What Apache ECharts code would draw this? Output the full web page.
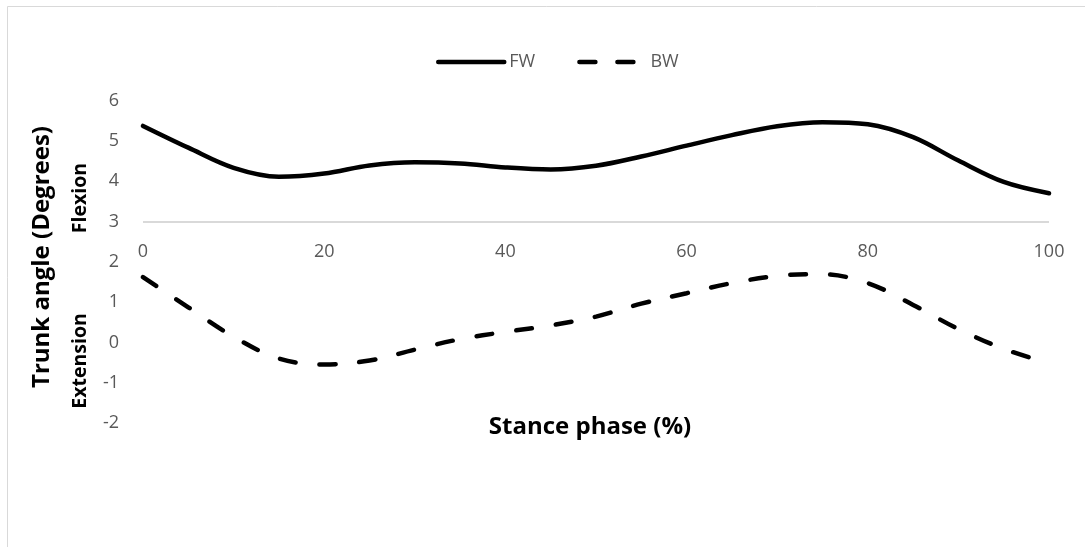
<!DOCTYPE html>
<html>
<head>
<meta charset="utf-8">
<script src="https://cdn.jsdelivr.net/npm/echarts@6/dist/echarts.min.js"></script>
<style>
  html, body { margin: 0; padding: 0; background: #ffffff; }
  #chart { width: 1085px; height: 547px; }
</style>
</head>
<body>
<div id="chart"></div>
<script>
// Stance phase (%) sampled every 5 %
const stance = [0, 5, 10, 15, 20, 25, 30, 35, 40, 45, 50, 55, 60, 65, 70, 75, 80, 85, 90, 95, 100];
// Trunk angle, forward walking (degrees)
const fw = [5.37, 4.83, 4.33, 4.11, 4.19, 4.39, 4.47, 4.44, 4.34, 4.29, 4.38, 4.61, 4.88, 5.14, 5.36, 5.46, 5.41, 5.09, 4.51, 3.98, 3.70];
// Trunk angle, backward walking (degrees)
const bw = [1.62, 0.87, 0.14, -0.40, -0.55, -0.45, -0.18, 0.08, 0.26, 0.42, 0.64, 0.96, 1.22, 1.47, 1.65, 1.69, 1.47, 0.93, 0.33, -0.16, -0.52];
// Axis ranges and tick steps
const xTicks = { min: 0, max: 100, step: 20 };
const yTicks = { min: -2, max: 6, step: 1 };
const seriesNames = ['FW', 'BW'];

const textFont = '"Open Sans", "Noto Sans", sans-serif';
const tickColor = '#595959';
const solidStyle = { color: '#000000', width: 4.5, cap: 'round' };
const dashedStyle = { color: '#000000', width: 4.5, type: [16, 24], cap: 'round' };

const pair = (xs, ys) => xs.map((x, i) => [x, ys[i]]);

// gridline only where the horizontal axis crosses (y = 3)
const yLevelCount = (yTicks.max - yTicks.min) / yTicks.step + 1;
const splitColors = [];
for (let i = 0; i < yLevelCount; i++) {
  splitColors.push(yTicks.min + i * yTicks.step === 3 ? '#d9d9d9' : 'rgba(0,0,0,0)');
}

const chart = echarts.init(document.getElementById('chart'), null, { renderer: 'canvas' });

chart.setOption({
  animation: false,
  backgroundColor: '#ffffff',
  grid: { left: 143, right: 36, top: 100.5, bottom: 124, containLabel: false },
  legend: {
    left: 436,
    top: 53,
    padding: 0,
    itemWidth: 66,
    itemHeight: 18,
    itemGap: 42,
    itemStyle: { opacity: 0 },
    textStyle: { color: tickColor, fontSize: 18, fontFamily: textFont },
    data: [
      { name: seriesNames[0], lineStyle: solidStyle },
      { name: seriesNames[1], lineStyle: { color: '#000000', width: 4.5, type: [16, 22], cap: 'round' } }
    ]
  },
  xAxis: {
    type: 'value',
    min: xTicks.min,
    max: xTicks.max,
    interval: xTicks.step,
    position: 'bottom',
    offset: -201.3,
    axisLine: { show: false },
    axisTick: { show: false },
    splitLine: { show: false },
    axisLabel: { color: tickColor, fontSize: 18, fontFamily: textFont, margin: 21 }
  },
  yAxis: {
    type: 'value',
    min: yTicks.min,
    max: yTicks.max,
    interval: yTicks.step,
    axisLine: { show: false },
    axisTick: { show: false },
    splitLine: { show: true, lineStyle: { color: splitColors, width: 2 } },
    axisLabel: { color: tickColor, fontSize: 18, fontFamily: textFont, margin: 24 }
  },
  graphic: [
    {
      type: 'rect',
      shape: { x: 7.5, y: 6.5, width: 1090, height: 600 },
      style: { fill: 'none', stroke: '#d9d9d9', lineWidth: 1 },
      silent: true,
      z: -10
    },
    {
      type: 'text',
      x: 42, y: 257,
      rotation: Math.PI / 2,
      style: {
        text: 'Trunk angle (Degrees)',
        font: 'bold 24px ' + textFont,
        fill: '#000000',
        align: 'center',
        verticalAlign: 'middle'
      }
    },
    {
      type: 'text',
      x: 80, y: 198,
      rotation: Math.PI / 2,
      style: {
        text: 'Flexion',
        font: 'bold 19.5px ' + textFont,
        fill: '#000000',
        align: 'center',
        verticalAlign: 'middle'
      }
    },
    {
      type: 'text',
      x: 80, y: 361,
      rotation: Math.PI / 2,
      style: {
        text: 'Extension',
        font: 'bold 19.5px ' + textFont,
        fill: '#000000',
        align: 'center',
        verticalAlign: 'middle'
      }
    },
    {
      type: 'text',
      x: 590, y: 427,
      style: {
        text: 'Stance phase (%)',
        font: 'bold 24px ' + textFont,
        fill: '#000000',
        align: 'center',
        verticalAlign: 'middle'
      }
    }
  ],
  series: [
    {
      name: seriesNames[0],
      type: 'line',
      data: pair(stance, fw),
      smooth: 0.35,
      symbol: 'none',
      lineStyle: solidStyle,
      itemStyle: { color: '#000000' }
    },
    {
      name: seriesNames[1],
      type: 'line',
      data: pair(stance, bw),
      smooth: 0.35,
      symbol: 'none',
      lineStyle: dashedStyle,
      itemStyle: { color: '#000000' }
    }
  ]
});
</script>
</body>
</html>
